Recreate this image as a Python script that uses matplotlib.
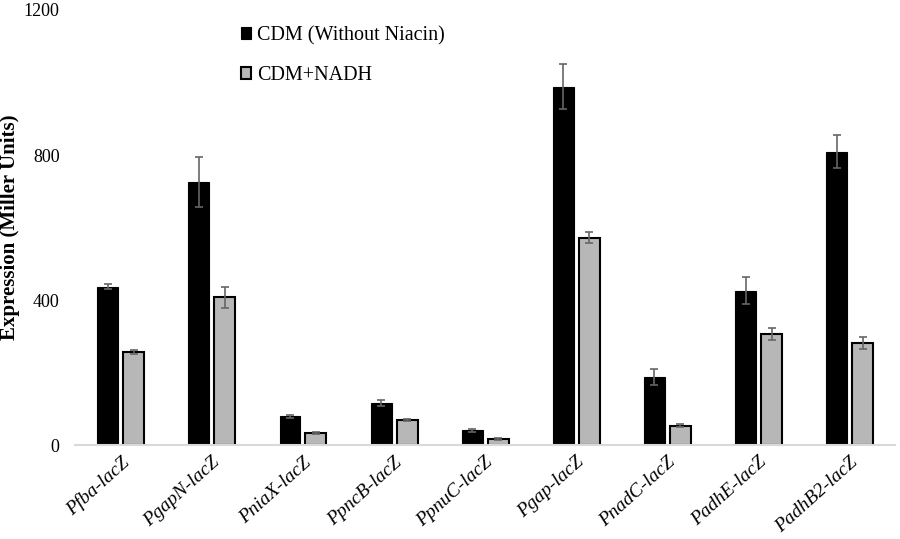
import numpy as np
import matplotlib
matplotlib.use('Agg')
import matplotlib.pyplot as plt

# Data
promoters = ['Pfba-lacZ', 'PgapN-lacZ', 'PniaX-lacZ', 'PpncB-lacZ', 'PpnuC-lacZ',
             'Pgap-lacZ', 'PnadC-lacZ', 'PadhE-lacZ', 'PadhB2-lacZ']
cdm = [438, 726, 80, 118, 42, 989, 190, 427, 810]
cdm_err = [8, 70, 5, 8, 4, 63, 22, 37, 46]
nadh = [258, 408, 34, 70, 18, 573, 54, 308, 283]
nadh_err = [6, 28, 2, 2, 2, 15, 4, 16, 17]
labels = ['CDM (Without Niacin)', 'CDM+NADH']
yticks = [0, 400, 800, 1200]

plt.rcParams['font.family'] = ['Liberation Serif', 'DejaVu Serif']

fig = plt.figure(figsize=(9, 5.39), dpi=100)
ax = fig.add_axes([0.0833, 0.1735, 0.9111, 0.808])

x = np.arange(len(promoters))
w = 0.23
err_kw = dict(ecolor='#666666', elinewidth=1.2, capsize=3, capthick=1.2)

ax.bar(x - 0.14, cdm, w, yerr=cdm_err, color='black', edgecolor='black',
       linewidth=0.8, error_kw=err_kw, label=labels[0])
ax.bar(x + 0.145, nadh, w, yerr=nadh_err, color='#b7b7b7', edgecolor='black',
       linewidth=1.5, error_kw=err_kw, label=labels[1])

ax.set_xlim(-0.5, len(promoters) - 0.5)
ax.set_ylim(0, 1200)
ax.set_yticks(yticks)
ax.set_yticklabels([str(t) for t in yticks], fontsize=13)
ax.set_xticks(x)
ax.set_xticklabels(promoters, rotation=42, ha='right', rotation_mode='anchor',
                   fontsize=14, style='italic')
ax.tick_params(axis='both', length=0, pad=6)
ax.tick_params(axis='y', pad=11)

for s in ['top', 'right', 'left']:
    ax.spines[s].set_visible(False)
ax.spines['bottom'].set_color('#d9d9d9')
ax.spines['bottom'].set_linewidth(1.5)

ax.set_ylabel('Expression (Miller Units)', fontsize=15, fontweight='bold')
ax.yaxis.set_label_coords(-0.067, 0.5)

ax.legend(loc='upper left', bbox_to_anchor=(0.18, 1.005), frameon=False,
          fontsize=14.5, handlelength=0.5, handleheight=0.5, handletextpad=0.3,
          labelspacing=1.05)

plt.savefig('out.png', dpi=100)
